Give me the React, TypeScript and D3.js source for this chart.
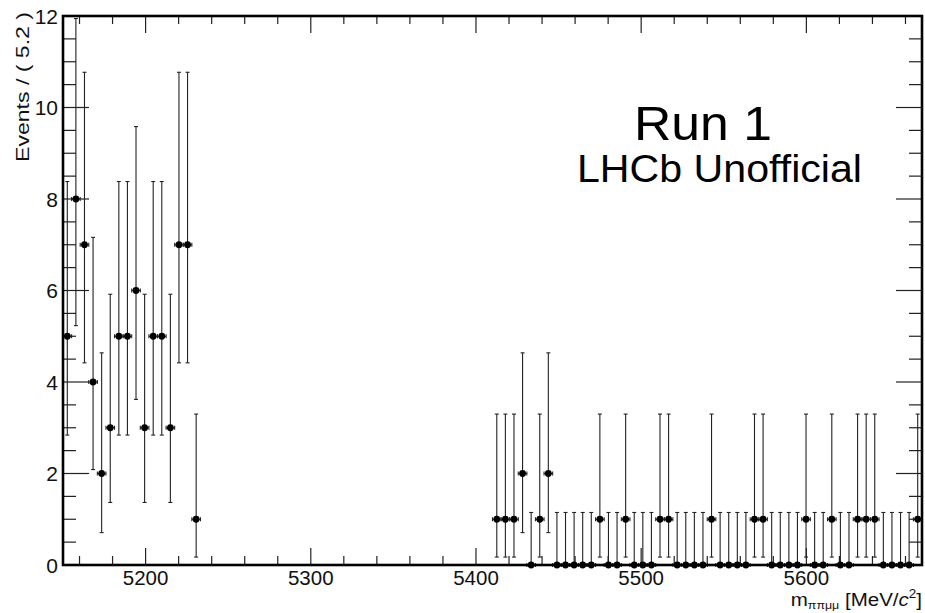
import React from "react";
import * as d3 from "d3";

// Histogram binning (MeV/c^2)
const histLow = 5150;
const histHigh = 5670;
const binWidth = 5.2;

// Lower sideband: bins starting at 5150
const lowSidebandStart = 5150;
const lowSidebandCounts = [5, 8, 7, 4, 2, 3, 5, 5, 6, 3, 5, 5, 3, 7, 7, 1];

// Upper sideband: bins starting at 5410
const highSidebandStart = 5410;
const highSidebandCounts = [
  1, 1, 1, 2, 0, 1, 2, 0, 0, 0,
  0, 0, 1, 0, 0, 1, 0, 0, 0, 1,
  1, 0, 0, 0, 0, 1, 0, 0, 0, 0,
  1, 1, 0, 0, 0, 0, 1, 0, 0, 1,
  0, 0, 1, 1, 1, 0, 0, 0, 0, 1,
];

// Poisson (68%) interval half-widths, indexed by count
const poissonErrLow = [0, 0.827, 1.292, 1.633, 1.914, 2.16, 2.38, 2.581, 2.768];
const poissonErrHigh = [1.148, 2.299, 2.637, 2.918, 3.162, 3.382, 3.583, 3.77, 3.945];

const xMajorTicks = [5200, 5300, 5400, 5500, 5600];
const xMinorTicks = d3.range(5160, 5670, 20);
const yMajorTicks = [0, 2, 4, 6, 8, 10, 12];
const yMinorTicks = d3.range(0, 12.01, 0.5);

const yTitle = "Events / ( 5.2 )";
const label1 = "Run 1";
const label2 = "LHCb Unofficial";

const W = 925;
const H = 613;
const L = 63;
const R = 922;
const T = 16;
const B = 565;
const FONT = "'Liberation Sans', Arial, Helvetica, sans-serif";

export default function App() {
  const x = d3.scaleLinear().domain([histLow, histHigh]).range([L, R]);
  const y = d3.scaleLinear().domain([0, 12]).range([B, T]);

  const points: { c: number; n: number }[] = [];
  lowSidebandCounts.forEach((n, i) =>
    points.push({ c: lowSidebandStart + (i + 0.5) * binWidth, n })
  );
  highSidebandCounts.forEach((n, i) =>
    points.push({ c: highSidebandStart + (i + 0.5) * binWidth, n })
  );

  const tickStroke = "#222";
  return (
    <svg
      width={W}
      height={H}
      style={{ position: "absolute", left: 0, top: 0, background: "#fff" }}
      fontFamily={FONT}
    >
      <rect x={0} y={0} width={W} height={H} fill="#fff" />
      {/* ticks */}
      <g stroke={tickStroke} strokeWidth={1.2}>
        {xMinorTicks.map((t) => {
          const major = xMajorTicks.includes(t);
          const len = major ? 17 : 9;
          return (
            <g key={"xt" + t}>
              <line x1={x(t)} x2={x(t)} y1={B} y2={B - len} />
              <line x1={x(t)} x2={x(t)} y1={T} y2={T + (major ? 17 : 8)} />
            </g>
          );
        })}
        {yMinorTicks.map((t) => {
          const major = yMajorTicks.includes(t);
          const len = major ? 26 : 13;
          return (
            <g key={"yt" + t}>
              <line x1={L} x2={L + len} y1={y(t)} y2={y(t)} />
              <line x1={R} x2={R - len} y1={y(t)} y2={y(t)} />
            </g>
          );
        })}
      </g>

      {/* data */}
      <g>
        {points.map((p, i) => {
          const cx = x(p.c);
          const cy = y(p.n);
          const yHi = y(p.n + poissonErrHigh[p.n]);
          const yLo = y(p.n - poissonErrLow[p.n]);
          const xl = x(p.c - binWidth / 2);
          const xr = x(p.c + binWidth / 2);
          return (
            <g key={i} stroke="#222" strokeWidth={1.1}>
              <line x1={cx} x2={cx} y1={yHi} y2={yLo} />
              <line x1={cx - 2} x2={cx + 2} y1={yHi} y2={yHi} />
              <line x1={cx - 2} x2={cx + 2} y1={yLo} y2={yLo} />
              <line x1={xl} x2={xr} y1={cy} y2={cy} />
              <line x1={xl} x2={xl} y1={cy - 2} y2={cy + 2} />
              <line x1={xr} x2={xr} y1={cy - 2} y2={cy + 2} />
              <circle cx={cx} cy={cy} r={3.4} fill="#000" stroke="none" />
            </g>
          );
        })}
      </g>

      {/* frame */}
      <rect x={L} y={T} width={R - L} height={B - T} fill="none" stroke="#000" strokeWidth={2.6} />

      {/* y tick labels */}
      {yMajorTicks.map((t) => (
        <text
          key={"yl" + t}
          x={58}
          y={y(t) + 7.5}
          textAnchor="end"
          fontSize={21}
          fill="#111"
        >
          {t}
        </text>
      ))}
      {/* x tick labels */}
      {xMajorTicks.map((t) => (
        <text
          key={"xl" + t}
          x={x(t)}
          y={585}
          textAnchor="middle"
          fontSize={20.5}
          fill="#111"
        >
          {t}
        </text>
      ))}

      {/* y title */}
      <text
        transform="translate(29,12) rotate(-90)"
        textAnchor="end"
        fontSize={19}
        fill="#111"
        textLength={150}
        lengthAdjust="spacingAndGlyphs"
      >
        {yTitle}
      </text>

      {/* x title */}
      <g transform="translate(922,606) scale(1.08,1)">
        <text textAnchor="end" fontSize={19} fill="#111">
          <tspan>m</tspan>
          <tspan fontSize={11.5} dy={3}>ππμμ</tspan>
          <tspan dy={-3}> [MeV/</tspan>
          <tspan fontStyle="italic">c</tspan>
          <tspan fontSize={12.5} dy={-8}>2</tspan>
          <tspan dy={8}>]</tspan>
        </text>
      </g>

      {/* labels */}
      <text
        x={634}
        y={140}
        fontSize={48}
        fill="#000"
        textLength={138}
        lengthAdjust="spacingAndGlyphs"
      >
        {label1}
      </text>
      <text
        x={577}
        y={182}
        fontSize={38}
        fill="#000"
        textLength={285}
        lengthAdjust="spacingAndGlyphs"
      >
        {label2}
      </text>
    </svg>
  );
}
